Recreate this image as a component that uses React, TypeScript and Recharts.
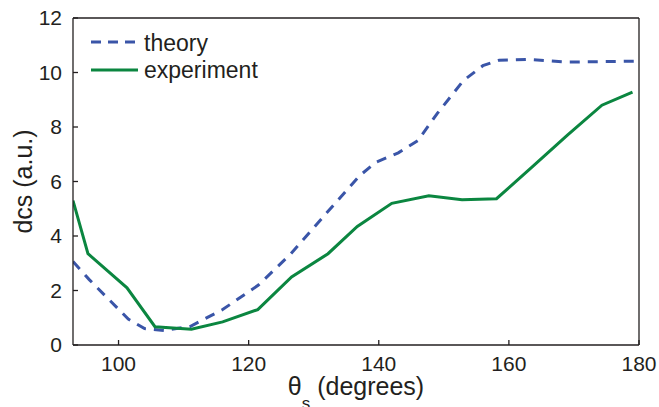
import React from 'react';
import { LineChart, Line, XAxis, YAxis, Legend } from 'recharts';

const theoryAngle = [93, 95.5, 101.5, 104, 107, 111, 116, 121.5, 126.5, 132, 137, 139.5, 143, 146, 149, 153, 156, 158.5, 163, 169, 175, 180];
const theoryDcs = [3.06, 2.4, 0.95, 0.6, 0.53, 0.68, 1.3, 2.2, 3.35, 4.85, 6.2, 6.7, 7.05, 7.5, 8.5, 9.7, 10.25, 10.45, 10.48, 10.38, 10.4, 10.42];

const expAngle = [93, 95.3, 101.3, 105.6, 111.2, 116, 121.4, 126.6, 132.2, 136.7, 142, 147.7, 152.8, 158.1, 163.5, 169, 174.3, 179];
const expDcs = [5.3, 3.35, 2.1, 0.67, 0.58, 0.85, 1.3, 2.5, 3.35, 4.35, 5.2, 5.48, 5.33, 5.37, 6.52, 7.7, 8.8, 9.28];

const xTicks = [100, 120, 140, 160, 180];
const yTicks = [0, 2, 4, 6, 8, 10, 12];
const xDomain = [93, 180];
const yDomain = [0, 12];

const theoryData = theoryAngle.map((a, i) => ({ angle: a, dcs: theoryDcs[i] }));
const expData = expAngle.map((a, i) => ({ angle: a, dcs: expDcs[i] }));

const BLUE = '#3a55a8';
const GREEN = '#0b8640';
const INK = '#231f20';
const FONT = '"Liberation Sans", Arial, Helvetica, sans-serif';

const renderLegend = () => (
  <svg width={260} height={90} style={{ display: 'block' }}>
    <line x1={91} y1={42} x2={138} y2={42} stroke={BLUE} strokeWidth={3} strokeDasharray="10 7" />
    <text x={144} y={51} fontSize={23} fontFamily={FONT} fill={INK}>theory</text>
    <line x1={91} y1={70} x2={138} y2={70} stroke={GREEN} strokeWidth={3} />
    <text x={144} y={78} fontSize={23} fontFamily={FONT} fill={INK}>experiment</text>
  </svg>
);

const XLabel = (props: any) => {
  const vb = props.viewBox || {};
  const cx = vb.x + vb.width / 2;
  const y = vb.y + 50;
  return (
    <text x={cx} y={y} textAnchor="middle" fontSize={25} fontFamily={FONT} fill={INK}>
      <tspan>θ</tspan>
      <tspan dy={14} fontSize={17}>s</tspan>
      <tspan dy={-14}> (degrees)</tspan>
    </text>
  );
};

const YLabel = (props: any) => {
  const vb = props.viewBox || {};
  const x = vb.x + vb.width - 41;
  const cy = vb.y + vb.height / 2;
  return (
    <text x={x} y={cy} textAnchor="middle" fontSize={25} fontFamily={FONT} fill={INK} transform={`rotate(-90, ${x}, ${cy})`}>
      dcs (a.u.)
    </text>
  );
};

const tickStyle = { fontSize: 21, fontFamily: FONT, fill: INK };

export default function App() {
  return (
    <div style={{ position: 'absolute', left: 0, top: 0, width: 659, height: 407 }}>
      <LineChart width={659} height={407} margin={{ top: 17, right: 19, bottom: 61, left: 72 }}>
        <XAxis
          type="number"
          dataKey="angle"
          domain={xDomain}
          ticks={xTicks}
          allowDataOverflow
          height={1}
          tickSize={-5}
          tickMargin={16}
          tick={tickStyle}
          stroke={INK}
          strokeWidth={1.3}
          label={{ content: (p: any) => <XLabel {...p} /> }}
        />
        <XAxis
          xAxisId="top"
          orientation="top"
          type="number"
          domain={xDomain}
          ticks={xTicks}
          allowDataOverflow
          height={1}
          tickSize={-5}
          tick={false}
          stroke={INK}
          strokeWidth={1.3}
        />
        <YAxis
          type="number"
          domain={yDomain}
          ticks={yTicks}
          allowDataOverflow
          width={1}
          tickSize={-5}
          tickMargin={16}
          tick={tickStyle}
          stroke={INK}
          strokeWidth={1.3}
          label={{ content: (p: any) => <YLabel {...p} /> }}
        />
        <YAxis
          yAxisId="right"
          orientation="right"
          type="number"
          domain={yDomain}
          ticks={yTicks}
          allowDataOverflow
          width={1}
          tickSize={-5}
          tick={false}
          stroke={INK}
          strokeWidth={1.3}
        />
        <Legend
          layout="horizontal"
          verticalAlign="middle"
          align="center"
          wrapperStyle={{ left: 0, top: 0, width: 260, height: 90 }}
          content={renderLegend}
        />
        <Line
          data={theoryData}
          dataKey="dcs"
          type="linear"
          stroke={BLUE}
          strokeWidth={3}
          strokeDasharray="10 8"
          dot={false}
          isAnimationActive={false}
        />
        <Line
          data={expData}
          dataKey="dcs"
          type="linear"
          stroke={GREEN}
          strokeWidth={3}
          dot={false}
          isAnimationActive={false}
        />
      </LineChart>
    </div>
  );
}
